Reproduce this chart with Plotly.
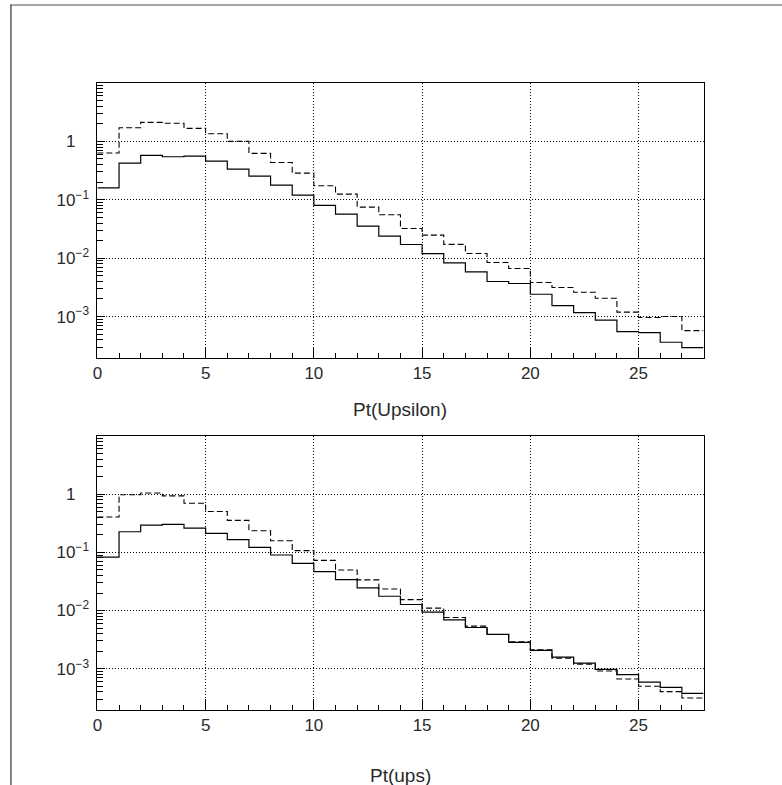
import plotly.graph_objects as go

# ---------------- data ----------------
bin_edges = list(range(0, 29))  # 28 bins of width 1, 0..28

top_solid = [0.16, 0.425, 0.575, 0.546, 0.56, 0.46, 0.336, 0.255, 0.178, 0.12,
             0.08, 0.0568, 0.0354, 0.0238, 0.01715, 0.0120, 0.0083, 0.00583,
             0.00398, 0.00368, 0.00241, 0.00154, 0.00117, 0.000866, 0.000553,
             0.000532, 0.000363, 0.000294]
top_dashed = [0.631, 1.71, 2.12, 2.04, 1.67, 1.35, 1.0, 0.623, 0.436, 0.286,
              0.174, 0.125, 0.0748, 0.0553, 0.0323, 0.0248, 0.0172, 0.0120,
              0.00843, 0.00665, 0.00383, 0.00314, 0.00261, 0.00206, 0.00119,
              0.000961, 0.001, 0.000575]
bottom_solid = [0.083, 0.226, 0.294, 0.302, 0.261, 0.212, 0.165, 0.122, 0.090,
                0.0648, 0.0466, 0.034, 0.0245, 0.0176, 0.0127, 0.00936, 0.00692,
                0.00511, 0.00388, 0.00283, 0.00206, 0.00158, 0.00125, 0.000975,
                0.000789, 0.00059, 0.000479, 0.000378]
bottom_dashed = [0.404, 0.975, 1.05, 0.936, 0.70, 0.505, 0.354, 0.235, 0.158,
                 0.107, 0.0729, 0.0498, 0.0336, 0.0235, 0.0154, 0.011, 0.00759,
                 0.00539, 0.00388, 0.0029, 0.00212, 0.00152, 0.0012, 0.000912,
                 0.000665, 0.000498, 0.000404, 0.000314]

x_tick_vals = [0, 5, 10, 15, 20, 25]
x_tick_text = ["0", "5", "10", "15", "20", "25"]
y_tick_vals = [0.001, 0.01, 0.1, 1]
y_tick_text = ["10<sup>\u22123</sup>", "10<sup>\u22122</sup>", "10<sup>\u22121</sup>",
               "1<span style='color:rgba(0,0,0,0)'><sup>\u22121</sup></span>"]
titles = ["Pt(Upsilon)", "Pt(ups)"]

W, H = 782, 785
FONT = "Liberation Sans"
TXT = "#2a2a2a"


def step(vals):
    return bin_edges, list(vals) + [vals[-1]]


fig = go.Figure()
panels = [(top_solid, top_dashed, "x", "y"), (bottom_solid, bottom_dashed, "x2", "y2")]
for solid, dashed, xa, ya in panels:
    xs, ys = step(dashed)
    fig.add_trace(go.Scatter(x=xs, y=ys, mode="lines", line_shape="hv",
                             line=dict(color="black", width=1.1, dash="6px,3px"),
                             xaxis=xa, yaxis=ya, showlegend=False, hoverinfo="skip"))
    xs, ys = step(solid)
    fig.add_trace(go.Scatter(x=xs, y=ys, mode="lines", line_shape="hv",
                             line=dict(color="black", width=1.2),
                             xaxis=xa, yaxis=ya, showlegend=False, hoverinfo="skip"))

xdom = [93 / W, 703 / W]
ydom_top = [1 - 358 / H, 1 - 83 / H]
ydom_bot = [1 - 710 / H, 1 - 436 / H]

xcommon = dict(range=[0, 28], domain=xdom, showline=True, mirror=True,
               linecolor="black", linewidth=1, ticks="inside", ticklen=11,
               tickcolor="black", tickmode="array", tickvals=x_tick_vals,
               ticktext=x_tick_text, showgrid=True, gridcolor="black",
               gridwidth=1, griddash="1px,2px", zeroline=False,
               ticklabelstandoff=0,
               tickfont=dict(family=FONT, size=17, color=TXT),
               minor=dict(ticks="inside", ticklen=5, tickcolor="black",
                          tickmode="linear", tick0=0, dtick=1, showgrid=False))
ycommon = dict(type="log", range=[-3.71, 1.0], showline=True, mirror=True,
               linecolor="black", linewidth=1, ticks="inside", ticklen=8,
               tickcolor="black", tickmode="array", tickvals=y_tick_vals,
               ticktext=y_tick_text, showgrid=True, gridcolor="black",
               gridwidth=1, griddash="1px,2px", zeroline=False,
               ticklabelstandoff=4,
               tickfont=dict(family=FONT, size=17, color=TXT),
               minor=dict(ticks="inside", ticklen=6, tickcolor="black",
                          dtick="D1", showgrid=False))

fig.update_layout(
    width=W, height=H, autosize=False,
    margin=dict(l=0, r=0, t=0, b=0, pad=0),
    paper_bgcolor="white", plot_bgcolor="white",
    xaxis=dict(xcommon, anchor="y"),
    yaxis=dict(ycommon, domain=ydom_top, anchor="x"),
    xaxis2=dict(xcommon, anchor="y2"),
    yaxis2=dict(ycommon, domain=ydom_bot, anchor="x2"),
    annotations=[
        dict(text=titles[0], x=398 / W, y=1 - 409 / H, xref="paper", yref="paper",
             showarrow=False, xanchor="center", yanchor="middle",
             font=dict(family=FONT, size=19, color=TXT)),
        dict(text=titles[1], x=398 / W, y=1 - 775 / H, xref="paper", yref="paper",
             showarrow=False, xanchor="center", yanchor="middle",
             font=dict(family=FONT, size=19, color=TXT)),
    ],
    shapes=[
        dict(type="line", xref="paper", yref="paper", x0=5 / W, x1=1, y0=1 - 5 / H,
             y1=1 - 5 / H, line=dict(color="#888", width=1.5)),
        dict(type="line", xref="paper", yref="paper", x0=6 / W, x1=6 / W, y0=0,
             y1=1 - 5 / H, line=dict(color="#333", width=1.2)),
    ],
)

fig.write_html("out.html", config={"displayModeBar": False},
               post_script="document.body.style.margin='0px';")
